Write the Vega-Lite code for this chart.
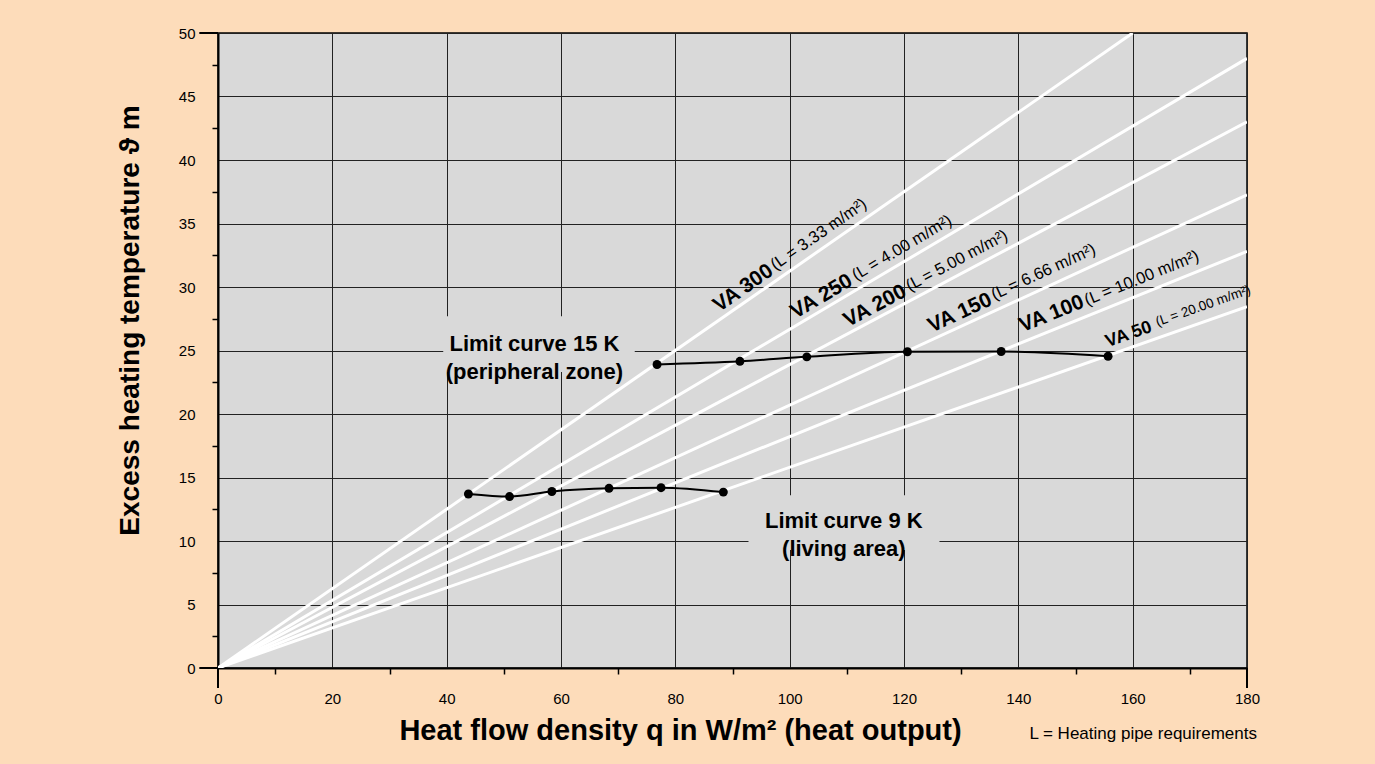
{
  "$schema": "https://vega.github.io/schema/vega-lite/v6.json",
  "width": 1029,
  "height": 635,
  "autosize": {"type": "none"},
  "padding": {"left": 218, "top": 33, "right": 128, "bottom": 96},
  "background": "#FDDCBA",
  "config": {
    "view": {"fill": "#D9D9D9", "stroke": "#000000", "strokeWidth": 1.5},
    "font": "Liberation Sans"
  },
  "datasets": {
    "boxes": [
      {"q": 39.4, "q2": 72.9, "t": 23.3, "t2": 27.7},
      {"q": 92.8, "q2": 126.2, "t": 9.3, "t2": 13.6}
    ],
    "pipes": [
      {"va": "VA 300", "q": 0, "t": 0}, {"va": "VA 300", "q": 160, "t": 50},
      {"va": "VA 250", "q": 0, "t": 0}, {"va": "VA 250", "q": 180, "t": 48.0},
      {"va": "VA 200", "q": 0, "t": 0}, {"va": "VA 200", "q": 180, "t": 43.0},
      {"va": "VA 150", "q": 0, "t": 0}, {"va": "VA 150", "q": 180, "t": 37.26},
      {"va": "VA 100", "q": 0, "t": 0}, {"va": "VA 100", "q": 180, "t": 32.8},
      {"va": "VA 50", "q": 0, "t": 0}, {"va": "VA 50", "q": 180, "t": 28.45}
    ],
    "curves": [
      {"curve": "15 K", "q": 76.8, "t": 23.9},
      {"curve": "15 K", "q": 91.3, "t": 24.15},
      {"curve": "15 K", "q": 103.0, "t": 24.5},
      {"curve": "15 K", "q": 120.6, "t": 24.9},
      {"curve": "15 K", "q": 137.0, "t": 24.92},
      {"curve": "15 K", "q": 155.7, "t": 24.55},
      {"curve": "9 K", "q": 43.8, "t": 13.7},
      {"curve": "9 K", "q": 51.0, "t": 13.5},
      {"curve": "9 K", "q": 58.4, "t": 13.9},
      {"curve": "9 K", "q": 68.4, "t": 14.15},
      {"curve": "9 K", "q": 77.5, "t": 14.2},
      {"curve": "9 K", "q": 88.4, "t": 13.85}
    ],
    "labels": [
      {"id": "v300", "q": 91.89, "t": 29.9, "txt": "VA 300"},
      {"id": "l300", "q": 105.08, "t": 34.15, "txt": "(L = 3.33 m/m²)"},
      {"id": "v250", "q": 105.6, "t": 29.24, "txt": "VA 250"},
      {"id": "l250", "q": 119.63, "t": 33.08, "txt": "(L = 4.00 m/m²)"},
      {"id": "v200", "q": 114.93, "t": 28.5, "txt": "VA 200"},
      {"id": "l200", "q": 129.23, "t": 32.08, "txt": "(L = 5.00 m/m²)"},
      {"id": "v150", "q": 129.8, "t": 27.95, "txt": "VA 150"},
      {"id": "l150", "q": 144.39, "t": 31.18, "txt": "(L = 6.66 m/m²)"},
      {"id": "v100", "q": 145.84, "t": 27.87, "txt": "VA 100"},
      {"id": "l100", "q": 161.57, "t": 30.7, "txt": "(L = 10.00 m/m²)"},
      {"id": "v50", "q": 159.3, "t": 26.25, "txt": "VA 50"},
      {"id": "l50", "q": 172.34, "t": 28.5, "txt": "(L = 20.00 m/m²)"}
    ],
    "limits": [
      {"q": 55.35, "t": 25.5, "txt": "Limit curve 15 K\n(peripheral zone)"},
      {"q": 109.47, "t": 11.57, "txt": "Limit curve 9 K\n(living area)"}
    ],
    "notes": [
      {"q": 181.75, "t": -5.61, "txt": "L = Heating pipe requirements"}
    ],
    "longticks": [
      {"q": 0, "t": 0, "q2": 0, "t2": -1.57},
      {"q": 180, "t": 0, "q2": 180, "t2": -1.57},
      {"q": -3.27, "t": 0, "q2": 0, "t2": 0},
      {"q": -3.27, "t": 50, "q2": 0, "t2": 50}
    ]
  },
  "encoding": {
    "x": {
      "field": "q", "type": "quantitative",
      "scale": {"domain": [0, 180], "nice": false, "zero": false},
      "axis": {
        "title": "Heat flow density q in W/m² (heat output)",
        "titleFont": "Liberation Sans", "titleFontSize": 29, "titleFontWeight": "bold", "titleColor": "#000000",
        "titleX": 462, "titleY": 71, "titleAlign": "center", "titleBaseline": "alphabetic",
        "values": [0, 10, 20, 30, 40, 50, 60, 70, 80, 90, 100, 110, 120, 130, 140, 150, 160, 170, 180],
        "labelExpr": "datum.value % 20 === 0 ? datum.label : ''",
        "labelFont": "Liberation Sans", "labelFontSize": 15, "labelColor": "#000000", "labelPadding": 17,
        "labelFlush": false, "labelOverlap": false,
        "tickSize": 6, "tickColor": "#000000", "tickWidth": 1.5,
        "tickOpacity": {"condition": {"test": "datum.value % 20 === 0", "value": 0}, "value": 1},
        "grid": true, "gridColor": "#222222", "gridWidth": 1,
        "gridOpacity": {"condition": {"test": "datum.value % 20 === 0", "value": 1}, "value": 0},
        "domainColor": "#000000", "domainWidth": 2
      }
    },
    "y": {
      "field": "t", "type": "quantitative",
      "scale": {"domain": [0, 50], "nice": false, "zero": false},
      "axis": {
        "title": "Excess heating temperature ϑ m",
        "titleFont": "Liberation Sans", "titleFontSize": 28, "titleFontWeight": "bold", "titleColor": "#000000",
        "titleAngle": -90, "titleX": -80, "titleY": 287, "titleAlign": "center", "titleBaseline": "alphabetic",
        "values": [0, 2.5, 5, 7.5, 10, 12.5, 15, 17.5, 20, 22.5, 25, 27.5, 30, 32.5, 35, 37.5, 40, 42.5, 45, 47.5, 50],
        "labelExpr": "datum.value % 5 === 0 ? datum.label : ''",
        "labelFont": "Liberation Sans", "labelFontSize": 15, "labelColor": "#000000", "labelPadding": 17,
        "labelFlush": false, "labelOverlap": false,
        "tickSize": 6, "tickColor": "#000000", "tickWidth": 1.5,
        "tickOpacity": {"condition": {"test": "datum.value % 5 === 0", "value": 0}, "value": 1},
        "grid": true, "gridColor": "#222222", "gridWidth": 1,
        "gridOpacity": {"condition": {"test": "datum.value % 5 === 0", "value": 1}, "value": 0},
        "domainColor": "#000000", "domainWidth": 2
      }
    }
  },
  "layer": [
    {
      "data": {"name": "boxes"},
      "mark": {"type": "rect", "fill": "#D9D9D9"},
      "encoding": {"x2": {"field": "q2"}, "y2": {"field": "t2"}}
    },
    {
      "data": {"name": "pipes"},
      "mark": {"type": "line", "color": "#FFFFFF", "strokeWidth": 3, "clip": true},
      "encoding": {"detail": {"field": "va"}}
    },
    {
      "data": {"name": "curves"},
      "mark": {"type": "line", "color": "#000000", "strokeWidth": 2, "interpolate": "monotone"},
      "encoding": {"detail": {"field": "curve"}}
    },
    {
      "data": {"name": "curves"},
      "mark": {"type": "point", "filled": true, "color": "#000000", "size": 80, "opacity": 1}
    },
    {
      "data": {"name": "limits"},
      "mark": {"type": "text", "font": "Liberation Sans", "fontSize": 22, "fontWeight": "bold", "lineBreak": "\n", "lineHeight": 28, "align": "center", "baseline": "middle", "color": "#000000"},
      "encoding": {"text": {"field": "txt"}}
    },
    {
      "data": {"name": "labels"}, "transform": [{"filter": "datum.id === 'v300'"}],
      "mark": {"type": "text", "angle": -34.8, "font": "Liberation Sans", "fontSize": 21, "fontWeight": "bold", "align": "center", "baseline": "middle", "color": "#000000"},
      "encoding": {"text": {"field": "txt"}}
    },
    {
      "data": {"name": "labels"}, "transform": [{"filter": "datum.id === 'l300'"}],
      "mark": {"type": "text", "angle": -34.8, "font": "Liberation Sans", "fontSize": 16.5, "align": "center", "baseline": "middle", "color": "#000000"},
      "encoding": {"text": {"field": "txt"}}
    },
    {
      "data": {"name": "labels"}, "transform": [{"filter": "datum.id === 'v250'"}],
      "mark": {"type": "text", "angle": -30.6, "font": "Liberation Sans", "fontSize": 21, "fontWeight": "bold", "align": "center", "baseline": "middle", "color": "#000000"},
      "encoding": {"text": {"field": "txt"}}
    },
    {
      "data": {"name": "labels"}, "transform": [{"filter": "datum.id === 'l250'"}],
      "mark": {"type": "text", "angle": -30.6, "font": "Liberation Sans", "fontSize": 16.5, "align": "center", "baseline": "middle", "color": "#000000"},
      "encoding": {"text": {"field": "txt"}}
    },
    {
      "data": {"name": "labels"}, "transform": [{"filter": "datum.id === 'v200'"}],
      "mark": {"type": "text", "angle": -28, "font": "Liberation Sans", "fontSize": 21, "fontWeight": "bold", "align": "center", "baseline": "middle", "color": "#000000"},
      "encoding": {"text": {"field": "txt"}}
    },
    {
      "data": {"name": "labels"}, "transform": [{"filter": "datum.id === 'l200'"}],
      "mark": {"type": "text", "angle": -28, "font": "Liberation Sans", "fontSize": 16.5, "align": "center", "baseline": "middle", "color": "#000000"},
      "encoding": {"text": {"field": "txt"}}
    },
    {
      "data": {"name": "labels"}, "transform": [{"filter": "datum.id === 'v150'"}],
      "mark": {"type": "text", "angle": -24.7, "font": "Liberation Sans", "fontSize": 21, "fontWeight": "bold", "align": "center", "baseline": "middle", "color": "#000000"},
      "encoding": {"text": {"field": "txt"}}
    },
    {
      "data": {"name": "labels"}, "transform": [{"filter": "datum.id === 'l150'"}],
      "mark": {"type": "text", "angle": -24.7, "font": "Liberation Sans", "fontSize": 16.5, "align": "center", "baseline": "middle", "color": "#000000"},
      "encoding": {"text": {"field": "txt"}}
    },
    {
      "data": {"name": "labels"}, "transform": [{"filter": "datum.id === 'v100'"}],
      "mark": {"type": "text", "angle": -22, "font": "Liberation Sans", "fontSize": 21, "fontWeight": "bold", "align": "center", "baseline": "middle", "color": "#000000"},
      "encoding": {"text": {"field": "txt"}}
    },
    {
      "data": {"name": "labels"}, "transform": [{"filter": "datum.id === 'l100'"}],
      "mark": {"type": "text", "angle": -22, "font": "Liberation Sans", "fontSize": 16.5, "align": "center", "baseline": "middle", "color": "#000000"},
      "encoding": {"text": {"field": "txt"}}
    },
    {
      "data": {"name": "labels"}, "transform": [{"filter": "datum.id === 'v50'"}],
      "mark": {"type": "text", "angle": -19.3, "font": "Liberation Sans", "fontSize": 18, "fontWeight": "bold", "align": "center", "baseline": "middle", "color": "#000000"},
      "encoding": {"text": {"field": "txt"}}
    },
    {
      "data": {"name": "labels"}, "transform": [{"filter": "datum.id === 'l50'"}],
      "mark": {"type": "text", "angle": -19.3, "font": "Liberation Sans", "fontSize": 13.5, "align": "center", "baseline": "middle", "color": "#000000"},
      "encoding": {"text": {"field": "txt"}}
    },
    {
      "data": {"name": "notes"},
      "mark": {"type": "text", "font": "Liberation Sans", "fontSize": 17, "align": "right", "baseline": "alphabetic", "color": "#000000", "clip": false},
      "encoding": {"text": {"field": "txt"}}
    },
    {
      "data": {"name": "longticks"},
      "mark": {"type": "rule", "color": "#000000", "strokeWidth": 2, "clip": false},
      "encoding": {"x2": {"field": "q2"}, "y2": {"field": "t2"}}
    }
  ]
}
